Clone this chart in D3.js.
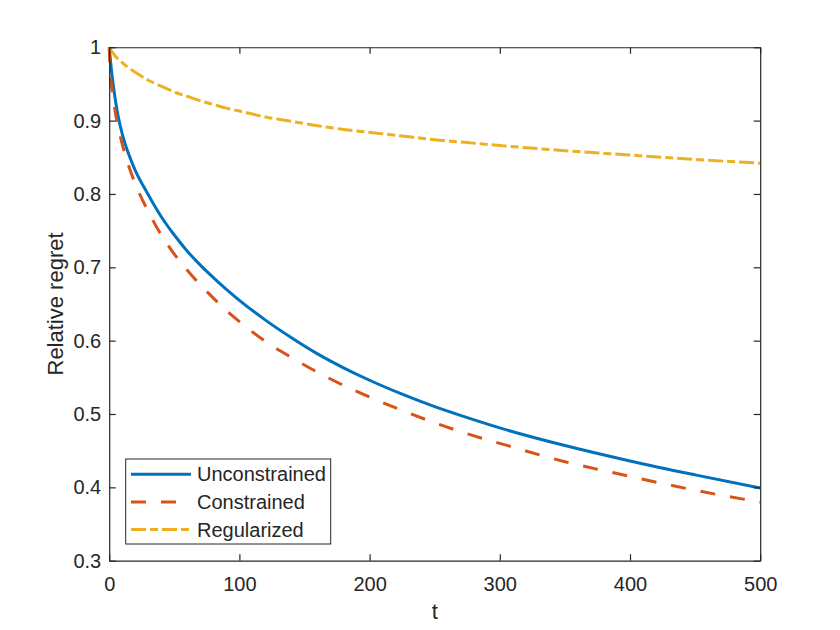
<!DOCTYPE html>
<html>
<head>
<meta charset="utf-8">
<script src="https://cdn.jsdelivr.net/npm/d3@7"></script>
<style>
  body { margin: 0; background: #fff; }
  text { font-family: "Liberation Sans", Arial, sans-serif; fill: #262626; }
</style>
</head>
<body>
<svg width="840" height="630"></svg>
<script>
var tValues = [0, 1, 2, 3, 5, 7, 10, 15, 20, 30, 40, 50, 60, 70, 80, 90, 100, 120, 140, 160, 180, 200, 225, 250, 275, 300, 350, 400, 450, 500];
var unconstrained = [1.0, 0.981, 0.964, 0.950, 0.925, 0.905, 0.882, 0.854, 0.832, 0.799, 0.769, 0.744, 0.722, 0.703, 0.686, 0.670, 0.655, 0.628, 0.604, 0.582, 0.563, 0.546, 0.527, 0.510, 0.495, 0.481, 0.457, 0.436, 0.417, 0.399];
var constrained = [1.0, 0.96, 0.945, 0.932, 0.908, 0.890, 0.868, 0.838, 0.814, 0.776, 0.744, 0.718, 0.696, 0.676, 0.658, 0.641, 0.626, 0.599, 0.577, 0.557, 0.539, 0.523, 0.505, 0.488, 0.473, 0.46, 0.435, 0.415, 0.396, 0.380];
var regularized = [1.0, 0.997, 0.994, 0.992, 0.987, 0.984, 0.979, 0.972, 0.966, 0.955, 0.947, 0.939, 0.933, 0.927, 0.922, 0.917, 0.913, 0.905, 0.899, 0.893, 0.888, 0.884, 0.879, 0.874, 0.870, 0.866, 0.859, 0.853, 0.847, 0.842];
var seriesNames = ["Unconstrained", "Constrained", "Regularized"];
var xTicks = [0, 100, 200, 300, 400, 500];
var yTicks = [0.3, 0.4, 0.5, 0.6, 0.7, 0.8, 0.9, 1];

var series = [
  {name: seriesNames[0], values: unconstrained, color: "#0072BD", dash: null},
  {name: seriesNames[1], values: constrained, color: "#D95319", dash: "15,15"},
  {name: seriesNames[2], values: regularized, color: "#EDB120", dash: "15,4,8,4"}
];

var svg = d3.select("svg");
var pLeft = 109.2, pRight = 760.2, pTop = 47.25, pBottom = 560.7;

var x = d3.scaleLinear().domain([0, 500]).range([pLeft, pRight]);
var y = d3.scaleLinear().domain([0.3, 1]).range([pBottom, pTop]);

var tickLen = 6.5;

// curves
var line = d3.line()
  .x((d, i) => x(tValues[i]))
  .y(d => y(d))
  .curve(d3.curveMonotoneX);

svg.append("defs").append("clipPath").attr("id", "clip")
  .append("rect").attr("x", pLeft - 2).attr("y", pTop - 2)
  .attr("width", pRight - pLeft + 4).attr("height", pBottom - pTop + 4);

svg.append("g").attr("clip-path", "url(#clip)")
  .selectAll("path")
  .data(series)
  .join("path")
  .attr("d", d => line(d.values))
  .attr("fill", "none")
  .attr("stroke", d => d.color)
  .attr("stroke-width", 3)
  .attr("stroke-dasharray", d => d.dash);

// axes (box with ticks on all four sides)
var xAxisB = d3.axisBottom(x).tickValues(xTicks).tickSizeInner(-tickLen).tickSizeOuter(0).tickPadding(16);
var xAxisT = d3.axisTop(x).tickValues(xTicks).tickSizeInner(-tickLen).tickSizeOuter(0).tickFormat("");
var yAxisL = d3.axisLeft(y).tickValues(yTicks).tickSizeInner(-tickLen).tickSizeOuter(0).tickPadding(8).tickFormat(d3.format("~g"));
var yAxisR = d3.axisRight(y).tickValues(yTicks).tickSizeInner(-tickLen).tickSizeOuter(0).tickFormat("");

function style(g) {
  g.selectAll("path").attr("stroke", "#262626").attr("stroke-width", 1.2);
  g.selectAll("line").attr("stroke", "#262626").attr("stroke-width", 1.2);
  g.selectAll("text").attr("font-size", 20).attr("fill", "#262626")
    .attr("font-family", "'Liberation Sans', Arial, sans-serif");
}

svg.append("g").attr("transform", "translate(0," + pBottom + ")").call(xAxisB).call(style);
svg.append("g").attr("transform", "translate(0," + pTop + ")").call(xAxisT).call(style);
svg.append("g").attr("transform", "translate(" + pLeft + ",0)").call(yAxisL).call(style);
svg.append("g").attr("transform", "translate(" + pRight + ",0)").call(yAxisR).call(style);

// axis labels
svg.append("text")
  .attr("x", (pLeft + pRight) / 2).attr("y", 619)
  .attr("text-anchor", "middle").attr("font-size", 22)
  .text("t");

svg.append("text")
  .attr("transform", "translate(63," + ((pTop + pBottom) / 2) + ") rotate(-90)")
  .attr("text-anchor", "middle").attr("font-size", 22)
  .text("Relative regret");

// legend
var legend = svg.append("g");
legend.append("rect")
  .attr("x", 125.7).attr("y", 459).attr("width", 205).attr("height", 85)
  .attr("fill", "#fff").attr("stroke", "#262626").attr("stroke-width", 1);

var rowY = d3.scalePoint().domain(seriesNames).range([474.3, 529.5]);

var rows = legend.selectAll("g.row")
  .data(series)
  .join("g")
  .attr("class", "row")
  .attr("transform", d => "translate(0," + rowY(d.name) + ")");

rows.append("line")
  .attr("x1", 131).attr("x2", 191)
  .attr("stroke", d => d.color)
  .attr("stroke-width", 3)
  .attr("stroke-dasharray", d => d.dash);

rows.append("text")
  .attr("x", 197).attr("dy", "0.35em")
  .attr("font-size", 20)
  .text(d => d.name);
</script>
</body>
</html>
